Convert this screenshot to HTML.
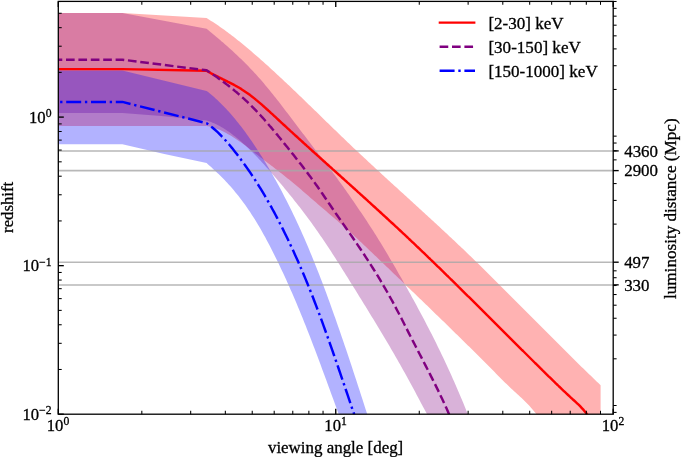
<!DOCTYPE html>
<html><head><meta charset="utf-8"><title>redshift vs viewing angle</title>
<style>html,body{margin:0;padding:0;background:#fff;}svg{display:block;will-change:transform;}body{font-family:"Liberation Serif",serif;}</style></head>
<body>
<svg width="685" height="457" viewBox="0 0 685 457">
<rect x="0" y="0" width="685" height="457" fill="#ffffff"/>
<defs><clipPath id="ax"><rect x="58.3" y="1.4" width="554.9" height="412.8"/></clipPath></defs>
<g clip-path="url(#ax)">
<polygon points="58.3,13.1 122.4,13.1 206.6,18.1 208.1,19.0 209.6,19.9 211.1,20.9 212.6,21.8 214.1,22.8 215.6,23.8 217.1,24.8 218.6,25.8 220.1,26.9 221.6,27.9 223.1,29.0 224.6,30.1 226.1,31.2 227.6,32.3 229.1,33.4 230.6,34.5 232.1,35.7 233.6,36.8 235.1,38.0 236.6,39.2 238.1,40.4 239.6,41.6 241.1,42.8 242.6,44.0 244.1,45.3 245.6,46.5 247.1,47.8 248.6,49.0 250.1,50.3 251.6,51.6 253.1,52.9 254.6,54.2 256.1,55.5 257.6,56.8 259.1,58.1 260.6,59.4 262.1,60.7 263.6,62.1 265.1,63.4 266.6,64.8 268.1,66.1 269.6,67.5 271.1,68.9 272.6,70.2 274.1,71.6 275.6,73.0 277.1,74.4 278.6,75.8 280.1,77.2 281.6,78.6 283.1,80.0 284.6,81.4 286.1,82.8 287.6,84.2 289.1,85.6 290.6,87.0 292.1,88.5 293.6,89.9 295.1,91.3 296.6,92.8 298.1,94.2 299.6,95.7 301.1,97.1 302.6,98.6 304.1,100.0 305.6,101.5 307.1,102.9 308.6,104.4 310.1,105.8 311.6,107.3 313.1,108.7 314.6,110.2 316.1,111.6 317.6,113.1 319.1,114.6 320.6,116.0 322.1,117.5 323.6,118.9 325.1,120.4 326.6,121.9 328.1,123.3 329.6,124.8 331.1,126.2 332.6,127.7 334.1,129.2 335.6,130.6 337.1,132.1 338.6,133.5 340.1,135.0 341.6,136.4 343.1,137.8 344.6,139.3 346.1,140.7 347.6,142.2 349.1,143.6 350.6,145.0 352.1,146.4 353.6,147.9 355.1,149.3 356.6,150.7 358.1,152.1 359.6,153.5 361.1,154.9 362.6,156.3 364.1,157.7 365.6,159.1 367.1,160.5 368.6,161.9 370.1,163.3 371.6,164.7 373.1,166.1 374.6,167.5 376.1,168.9 377.6,170.3 379.1,171.6 380.6,173.0 382.1,174.4 383.6,175.8 385.1,177.2 386.6,178.5 388.1,179.9 389.6,181.3 391.1,182.7 392.6,184.0 394.1,185.4 395.6,186.8 397.1,188.1 398.6,189.5 400.1,190.9 401.6,192.2 403.1,193.6 404.6,195.0 406.1,196.3 407.6,197.7 409.1,199.1 410.6,200.4 412.1,201.8 413.6,203.2 415.1,204.5 416.6,205.9 418.1,207.3 419.6,208.7 421.1,210.0 422.6,211.4 424.1,212.8 425.6,214.2 427.1,215.5 428.6,216.9 430.1,218.3 431.6,219.7 433.1,221.0 434.6,222.4 436.1,223.8 437.6,225.2 439.1,226.6 440.6,228.0 442.1,229.4 443.6,230.8 445.1,232.2 446.6,233.6 448.1,235.0 449.6,236.4 451.1,237.8 452.6,239.2 454.1,240.6 455.6,242.0 457.1,243.4 458.6,244.9 460.1,246.3 461.6,247.7 463.1,249.1 464.6,250.6 466.1,252.0 467.6,253.5 469.1,254.9 470.6,256.3 472.1,257.8 473.6,259.3 475.1,260.7 476.6,262.2 478.1,263.6 479.6,265.1 481.1,266.6 482.6,268.0 484.1,269.5 485.6,271.0 487.1,272.5 488.6,273.9 490.1,275.4 491.6,276.9 493.1,278.4 494.6,279.9 496.1,281.4 497.6,282.9 499.1,284.4 500.6,285.9 502.1,287.4 503.6,288.9 505.1,290.4 506.6,291.9 508.1,293.4 509.6,294.9 511.1,296.4 512.6,297.9 514.1,299.4 515.6,300.9 517.1,302.4 518.6,303.9 520.1,305.4 521.6,306.9 523.1,308.4 524.6,309.9 526.1,311.5 527.6,313.0 529.1,314.5 530.6,316.0 532.1,317.5 533.6,319.0 535.1,320.5 536.6,322.0 538.1,323.5 539.6,325.1 541.1,326.6 542.6,328.1 544.1,329.6 545.6,331.1 547.1,332.6 548.6,334.1 550.1,335.6 551.6,337.1 553.1,338.6 554.6,340.1 556.1,341.6 557.6,343.1 559.1,344.6 560.6,346.1 562.1,347.6 563.6,349.1 565.1,350.6 566.6,352.1 568.1,353.6 569.6,355.1 571.1,356.5 572.6,358.0 574.1,359.5 575.6,361.0 577.1,362.5 578.6,363.9 580.1,365.4 581.6,366.9 583.1,368.3 584.6,369.8 586.1,371.2 587.6,372.7 589.1,374.2 590.6,375.6 592.1,377.1 593.6,378.5 595.1,379.9 596.6,381.4 598.1,382.8 599.6,384.2 600.6,385.2 600.6,416.0 537.8,416.0 536.6,414.4 535.1,412.5 533.6,410.7 532.1,408.9 530.6,407.2 529.1,405.6 527.6,404.0 526.1,402.5 524.6,401.0 523.1,399.5 521.6,398.1 520.1,396.7 518.6,395.3 517.1,393.9 515.6,392.5 514.1,391.2 512.6,389.8 511.1,388.4 509.6,387.0 508.1,385.6 506.6,384.1 505.1,382.7 503.6,381.2 502.1,379.7 500.6,378.2 499.1,376.7 497.6,375.2 496.1,373.7 494.6,372.1 493.1,370.6 491.6,369.1 490.1,367.6 488.6,366.1 487.1,364.6 485.6,363.1 484.1,361.6 482.6,360.1 481.1,358.6 479.6,357.1 478.1,355.6 476.6,354.1 475.1,352.6 473.6,351.1 472.1,349.6 470.6,348.1 469.1,346.6 467.6,345.2 466.1,343.7 464.6,342.2 463.1,340.7 461.6,339.2 460.1,337.8 458.6,336.3 457.1,334.8 455.6,333.4 454.1,331.9 452.6,330.4 451.1,329.0 449.6,327.5 448.1,326.0 446.6,324.6 445.1,323.1 443.6,321.6 442.1,320.2 440.6,318.7 439.1,317.3 437.6,315.8 436.1,314.4 434.6,312.9 433.1,311.4 431.6,310.0 430.1,308.5 428.6,307.1 427.1,305.6 425.6,304.2 424.1,302.7 422.6,301.3 421.1,299.8 419.6,298.4 418.1,297.0 416.6,295.5 415.1,294.1 413.6,292.6 412.1,291.2 410.6,289.7 409.1,288.3 407.6,286.9 406.1,285.4 404.6,284.0 403.1,282.5 401.6,281.1 400.1,279.6 398.6,278.2 397.1,276.8 395.6,275.3 394.1,273.9 392.6,272.4 391.1,271.0 389.6,269.6 388.1,268.1 386.6,266.7 385.1,265.2 383.6,263.8 382.1,262.4 380.6,260.9 379.1,259.5 377.6,258.0 376.1,256.6 374.6,255.2 373.1,253.7 371.6,252.3 370.1,250.9 368.6,249.4 367.1,248.0 365.6,246.6 364.1,245.2 362.6,243.7 361.1,242.3 359.6,240.9 358.1,239.5 356.6,238.1 355.1,236.7 353.6,235.3 352.1,234.0 350.6,232.6 349.1,231.2 347.6,229.9 346.1,228.5 344.6,227.2 343.1,225.8 341.6,224.5 340.1,223.2 338.6,221.9 337.1,220.6 335.6,219.3 334.1,218.0 332.6,216.7 331.1,215.4 329.6,214.2 328.1,212.9 326.6,211.6 325.1,210.3 323.6,209.0 322.1,207.8 320.6,206.5 319.1,205.2 317.6,203.9 316.1,202.6 314.6,201.3 313.1,200.0 311.6,198.7 310.1,197.4 308.6,196.1 307.1,194.8 305.6,193.5 304.1,192.2 302.6,190.9 301.1,189.6 299.6,188.3 298.1,187.1 296.6,185.8 295.1,184.5 293.6,183.3 292.1,182.0 290.6,180.8 289.1,179.6 287.6,178.4 286.1,177.2 284.6,176.0 283.1,174.8 281.6,173.6 280.1,172.4 278.6,171.3 277.1,170.1 275.6,168.9 274.1,167.8 272.6,166.6 271.1,165.5 269.6,164.3 268.1,163.2 266.6,162.0 265.1,160.9 263.6,159.7 262.1,158.5 260.6,157.4 259.1,156.2 257.6,155.0 256.1,153.9 254.6,152.7 253.1,151.5 251.6,150.4 250.1,149.2 248.6,148.1 247.1,146.9 245.6,145.8 244.1,144.7 242.6,143.6 241.1,142.6 239.6,141.5 238.1,140.5 236.6,139.4 235.1,138.5 233.6,137.5 232.1,136.5 230.6,135.6 229.1,134.7 227.6,133.9 226.1,133.1 224.6,132.3 223.1,131.5 221.6,130.8 220.1,130.1 218.6,129.5 217.1,128.9 215.6,128.3 214.1,127.8 212.6,127.3 211.1,126.9 209.6,126.5 208.1,126.2 206.6,125.9 122.4,125.9 58.3,125.9" fill="#ff0000" fill-opacity="0.3"/>
<polygon points="58.3,13.1 122.4,13.1 206.6,28.8 208.1,30.0 209.6,31.3 211.1,32.5 212.6,33.7 214.1,35.0 215.6,36.3 217.1,37.5 218.6,38.8 220.1,40.1 221.6,41.4 223.1,42.6 224.6,44.0 226.1,45.3 227.6,46.6 229.1,47.9 230.6,49.3 232.1,50.6 233.6,52.0 235.1,53.4 236.6,54.8 238.1,56.2 239.6,57.7 241.1,59.1 242.6,60.6 244.1,62.0 245.6,63.5 247.1,65.1 248.6,66.6 250.1,68.2 251.6,69.7 253.1,71.3 254.6,72.9 256.1,74.6 257.6,76.2 259.1,77.9 260.6,79.6 262.1,81.3 263.6,83.1 265.1,84.9 266.6,86.7 268.1,88.5 269.6,90.3 271.1,92.2 272.6,94.0 274.1,95.9 275.6,97.8 277.1,99.7 278.6,101.6 280.1,103.6 281.6,105.5 283.1,107.5 284.6,109.4 286.1,111.4 287.6,113.3 289.1,115.3 290.6,117.3 292.1,119.3 293.6,121.3 295.1,123.3 296.6,125.2 298.1,127.2 299.6,129.2 301.1,131.2 302.6,133.2 304.1,135.1 305.6,137.1 307.1,139.1 308.6,141.0 310.1,143.0 311.6,145.0 313.1,146.9 314.6,148.9 316.1,150.8 317.6,152.7 319.1,154.7 320.6,156.6 322.1,158.5 323.6,160.5 325.1,162.4 326.6,164.4 328.1,166.3 329.6,168.3 331.1,170.3 332.6,172.3 334.1,174.3 335.6,176.3 337.1,178.3 338.6,180.4 340.1,182.4 341.6,184.5 343.1,186.6 344.6,188.7 346.1,190.8 347.6,193.0 349.1,195.1 350.6,197.3 352.1,199.4 353.6,201.6 355.1,203.8 356.6,206.0 358.1,208.2 359.6,210.4 361.1,212.6 362.6,214.8 364.1,217.1 365.6,219.3 367.1,221.6 368.6,223.9 370.1,226.2 371.6,228.5 373.1,230.8 374.6,233.2 376.1,235.6 377.6,238.0 379.1,240.4 380.6,242.8 382.1,245.3 383.6,247.8 385.1,250.3 386.6,252.8 388.1,255.3 389.6,257.9 391.1,260.4 392.6,263.0 394.1,265.6 395.6,268.1 397.1,270.7 398.6,273.4 400.1,276.0 401.6,278.6 403.1,281.2 404.6,283.9 406.1,286.6 407.6,289.3 409.1,291.9 410.6,294.6 412.1,297.4 413.6,300.1 415.1,302.8 416.6,305.6 418.1,308.4 419.6,311.2 421.1,314.0 422.6,316.8 424.1,319.6 425.6,322.5 427.1,325.4 428.6,328.3 430.1,331.2 431.6,334.1 433.1,337.1 434.6,340.1 436.1,343.1 437.6,346.2 439.1,349.2 440.6,352.3 442.1,355.4 443.6,358.6 445.1,361.8 446.6,365.0 448.1,368.2 449.6,371.5 451.1,374.8 452.6,378.2 454.1,381.6 455.6,385.0 457.1,388.4 458.6,391.9 460.1,395.5 461.6,399.0 463.1,402.6 464.6,406.3 466.1,410.0 467.6,413.7 468.5,416.0 428.1,416.0 427.1,414.2 425.6,411.5 424.1,408.8 422.6,406.0 421.1,403.2 419.6,400.3 418.1,397.5 416.6,394.7 415.1,391.8 413.6,389.0 412.1,386.2 410.6,383.5 409.1,380.7 407.6,378.0 406.1,375.2 404.6,372.5 403.1,369.9 401.6,367.2 400.1,364.5 398.6,361.9 397.1,359.3 395.6,356.7 394.1,354.1 392.6,351.5 391.1,348.9 389.6,346.3 388.1,343.8 386.6,341.2 385.1,338.7 383.6,336.2 382.1,333.7 380.6,331.2 379.1,328.7 377.6,326.2 376.1,323.7 374.6,321.3 373.1,318.8 371.6,316.4 370.1,313.9 368.6,311.5 367.1,309.0 365.6,306.6 364.1,304.2 362.6,301.7 361.1,299.3 359.6,296.9 358.1,294.5 356.6,292.0 355.1,289.6 353.6,287.2 352.1,284.8 350.6,282.4 349.1,280.0 347.6,277.6 346.1,275.2 344.6,272.8 343.1,270.4 341.6,268.0 340.1,265.6 338.6,263.2 337.1,260.9 335.6,258.5 334.1,256.2 332.6,253.9 331.1,251.6 329.6,249.3 328.1,247.0 326.6,244.7 325.1,242.5 323.6,240.3 322.1,238.0 320.6,235.9 319.1,233.7 317.6,231.5 316.1,229.4 314.6,227.3 313.1,225.2 311.6,223.1 310.1,221.0 308.6,219.0 307.1,217.0 305.6,215.0 304.1,213.0 302.6,211.0 301.1,209.0 299.6,207.1 298.1,205.2 296.6,203.3 295.1,201.4 293.6,199.5 292.1,197.6 290.6,195.7 289.1,193.9 287.6,192.0 286.1,190.2 284.6,188.4 283.1,186.6 281.6,184.8 280.1,183.0 278.6,181.2 277.1,179.5 275.6,177.7 274.1,176.0 272.6,174.2 271.1,172.5 269.6,170.8 268.1,169.1 266.6,167.4 265.1,165.7 263.6,164.1 262.1,162.4 260.6,160.8 259.1,159.2 257.6,157.6 256.1,156.0 254.6,154.5 253.1,152.9 251.6,151.4 250.1,149.9 248.6,148.5 247.1,147.1 245.6,145.6 244.1,144.3 242.6,142.9 241.1,141.6 239.6,140.3 238.1,139.0 236.6,137.8 235.1,136.5 233.6,135.4 232.1,134.2 230.6,133.1 229.1,132.0 227.6,131.0 226.1,130.0 224.6,129.0 223.1,128.1 221.6,127.2 220.1,126.3 218.6,125.5 217.1,124.8 215.6,124.0 214.1,123.3 212.6,122.7 211.1,122.1 209.6,121.6 208.1,121.1 206.6,120.6 164.3,116.3 122.4,112.9 58.3,112.9" fill="#800080" fill-opacity="0.3"/>
<polygon points="58.3,70.6 122.4,70.6 206.6,90.9 208.1,92.1 209.6,93.3 211.1,94.5 212.6,95.8 214.1,97.1 215.6,98.4 217.1,99.8 218.6,101.2 220.1,102.7 221.6,104.2 223.1,105.7 224.6,107.3 226.1,108.8 227.6,110.5 229.1,112.1 230.6,113.8 232.1,115.5 233.6,117.3 235.1,119.1 236.6,120.9 238.1,122.8 239.6,124.7 241.1,126.6 242.6,128.6 244.1,130.6 245.6,132.6 247.1,134.7 248.6,136.8 250.1,138.9 251.6,141.1 253.1,143.3 254.6,145.5 256.1,147.8 257.6,150.0 259.1,152.4 260.6,154.7 262.1,157.1 263.6,159.5 265.1,162.0 266.6,164.5 268.1,167.0 269.6,169.6 271.1,172.1 272.6,174.8 274.1,177.4 275.6,180.1 277.1,182.8 278.6,185.5 280.1,188.3 281.6,191.1 283.1,194.0 284.6,196.9 286.1,199.8 287.6,202.7 289.1,205.7 290.6,208.8 292.1,211.8 293.6,214.9 295.1,218.1 296.6,221.3 298.1,224.5 299.6,227.8 301.1,231.1 302.6,234.4 304.1,237.8 305.6,241.3 307.1,244.8 308.6,248.3 310.1,251.9 311.6,255.5 313.1,259.2 314.6,262.9 316.1,266.7 317.6,270.5 319.1,274.3 320.6,278.2 322.1,282.1 323.6,286.1 325.1,290.1 326.6,294.1 328.1,298.2 329.6,302.3 331.1,306.5 332.6,310.7 334.1,314.9 335.6,319.1 337.1,323.4 338.6,327.7 340.1,332.0 341.6,336.4 343.1,340.8 344.6,345.2 346.1,349.6 347.6,354.1 349.1,358.6 350.6,363.1 352.1,367.6 353.6,372.2 355.1,376.7 356.6,381.3 358.1,385.9 359.6,390.5 361.1,395.2 362.6,399.8 364.1,404.5 365.6,409.2 367.1,413.8 367.8,416.0 339.4,416.0 338.6,413.9 337.1,409.8 335.6,405.7 334.1,401.6 332.6,397.5 331.1,393.4 329.6,389.3 328.1,385.2 326.6,381.1 325.1,377.0 323.6,372.9 322.1,368.9 320.6,364.8 319.1,360.8 317.6,356.8 316.1,352.8 314.6,348.8 313.1,344.9 311.6,341.0 310.1,337.1 308.6,333.2 307.1,329.4 305.6,325.6 304.1,321.9 302.6,318.1 301.1,314.5 299.6,310.8 298.1,307.2 296.6,303.6 295.1,300.1 293.6,296.6 292.1,293.1 290.6,289.7 289.1,286.3 287.6,282.9 286.1,279.6 284.6,276.3 283.1,273.1 281.6,269.9 280.1,266.7 278.6,263.6 277.1,260.5 275.6,257.4 274.1,254.4 272.6,251.4 271.1,248.5 269.6,245.6 268.1,242.7 266.6,239.9 265.1,237.1 263.6,234.4 262.1,231.7 260.6,229.1 259.1,226.5 257.6,224.0 256.1,221.5 254.6,219.1 253.1,216.7 251.6,214.4 250.1,212.1 248.6,209.9 247.1,207.7 245.6,205.6 244.1,203.5 242.6,201.4 241.1,199.4 239.6,197.5 238.1,195.6 236.6,193.7 235.1,191.9 233.6,190.1 232.1,188.3 230.6,186.6 229.1,184.9 227.6,183.3 226.1,181.7 224.6,180.1 223.1,178.6 221.6,177.1 220.1,175.6 218.6,174.1 217.1,172.7 215.6,171.3 214.1,169.9 212.6,168.5 211.1,167.1 209.6,165.8 208.1,164.4 206.6,163.1 164.3,154.1 122.4,144.2 58.3,144.2" fill="#0000ff" fill-opacity="0.3"/>
<line x1="58.3" y1="150.9" x2="613.2" y2="150.9" stroke="#a6a6a6" stroke-opacity="0.8" stroke-width="1.55"/>
<line x1="58.3" y1="170.6" x2="613.2" y2="170.6" stroke="#a6a6a6" stroke-opacity="0.8" stroke-width="1.55"/>
<line x1="58.3" y1="262.2" x2="613.2" y2="262.2" stroke="#a6a6a6" stroke-opacity="0.8" stroke-width="1.55"/>
<line x1="58.3" y1="284.9" x2="613.2" y2="284.9" stroke="#a6a6a6" stroke-opacity="0.8" stroke-width="1.55"/>
<polyline points="58.3,69.1 122.4,69.1 206.6,70.7 208.1,71.6 209.6,72.4 211.1,73.3 212.6,74.1 214.1,74.9 215.6,75.6 217.1,76.4 218.6,77.2 220.1,77.9 221.6,78.6 223.1,79.4 224.6,80.1 226.1,80.8 227.6,81.6 229.1,82.3 230.6,83.1 232.1,83.9 233.6,84.7 235.1,85.5 236.6,86.3 238.1,87.2 239.6,88.0 241.1,88.9 242.6,89.9 244.1,90.9 245.6,91.9 247.1,92.9 248.6,94.0 250.1,95.1 251.6,96.3 253.1,97.4 254.6,98.6 256.1,99.9 257.6,101.1 259.1,102.4 260.6,103.6 262.1,104.9 263.6,106.3 265.1,107.6 266.6,109.0 268.1,110.3 269.6,111.7 271.1,113.1 272.6,114.4 274.1,115.8 275.6,117.2 277.1,118.6 278.6,120.0 280.1,121.4 281.6,122.8 283.1,124.2 284.6,125.5 286.1,126.9 287.6,128.3 289.1,129.7 290.6,131.1 292.1,132.4 293.6,133.8 295.1,135.2 296.6,136.5 298.1,137.9 299.6,139.3 301.1,140.6 302.6,142.0 304.1,143.4 305.6,144.7 307.1,146.1 308.6,147.4 310.1,148.8 311.6,150.2 313.1,151.5 314.6,152.9 316.1,154.2 317.6,155.6 319.1,156.9 320.6,158.3 322.1,159.6 323.6,161.0 325.1,162.3 326.6,163.7 328.1,165.0 329.6,166.4 331.1,167.7 332.6,169.1 334.1,170.4 335.6,171.8 337.1,173.1 338.6,174.5 340.1,175.8 341.6,177.2 343.1,178.5 344.6,179.9 346.1,181.2 347.6,182.6 349.1,183.9 350.6,185.3 352.1,186.6 353.6,188.0 355.1,189.3 356.6,190.7 358.1,192.1 359.6,193.4 361.1,194.8 362.6,196.1 364.1,197.5 365.6,198.8 367.1,200.2 368.6,201.6 370.1,202.9 371.6,204.3 373.1,205.7 374.6,207.0 376.1,208.4 377.6,209.8 379.1,211.1 380.6,212.5 382.1,213.9 383.6,215.3 385.1,216.6 386.6,218.0 388.1,219.4 389.6,220.8 391.1,222.2 392.6,223.5 394.1,224.9 395.6,226.3 397.1,227.7 398.6,229.1 400.1,230.5 401.6,231.9 403.1,233.3 404.6,234.7 406.1,236.1 407.6,237.5 409.1,239.0 410.6,240.4 412.1,241.8 413.6,243.2 415.1,244.6 416.6,246.1 418.1,247.5 419.6,248.9 421.1,250.4 422.6,251.8 424.1,253.2 425.6,254.7 427.1,256.1 428.6,257.6 430.1,259.0 431.6,260.5 433.1,261.9 434.6,263.4 436.1,264.8 437.6,266.3 439.1,267.7 440.6,269.2 442.1,270.7 443.6,272.1 445.1,273.6 446.6,275.1 448.1,276.5 449.6,278.0 451.1,279.5 452.6,280.9 454.1,282.4 455.6,283.9 457.1,285.4 458.6,286.9 460.1,288.3 461.6,289.8 463.1,291.3 464.6,292.8 466.1,294.3 467.6,295.8 469.1,297.2 470.6,298.7 472.1,300.2 473.6,301.7 475.1,303.2 476.6,304.7 478.1,306.2 479.6,307.7 481.1,309.2 482.6,310.7 484.1,312.2 485.6,313.7 487.1,315.2 488.6,316.6 490.1,318.1 491.6,319.6 493.1,321.1 494.6,322.6 496.1,324.1 497.6,325.6 499.1,327.1 500.6,328.6 502.1,330.1 503.6,331.6 505.1,333.1 506.6,334.6 508.1,336.1 509.6,337.6 511.1,339.1 512.6,340.6 514.1,342.1 515.6,343.6 517.1,345.1 518.6,346.6 520.1,348.1 521.6,349.6 523.1,351.0 524.6,352.5 526.1,354.0 527.6,355.5 529.1,357.0 530.6,358.5 532.1,360.0 533.6,361.5 535.1,363.0 536.6,364.4 538.1,365.9 539.6,367.4 541.1,368.9 542.6,370.4 544.1,371.8 545.6,373.3 547.1,374.8 548.6,376.3 550.1,377.7 551.6,379.2 553.1,380.7 554.6,382.1 556.1,383.6 557.6,385.0 559.1,386.5 560.6,387.9 562.1,389.4 563.6,390.8 565.1,392.2 566.6,393.6 568.1,395.0 569.6,396.4 571.1,397.8 572.6,399.2 574.1,400.5 575.6,401.9 577.1,403.3 578.6,404.7 580.1,406.2 581.6,407.8 583.1,409.4 584.6,411.2 586.1,413.0 587.6,415.1 588.3,416.0" fill="none" stroke="#ff0000" stroke-width="2.45" stroke-linejoin="round"/>
<polyline points="58.3,59.7 122.4,59.7 206.6,70.3 208.1,71.3 209.6,72.3 211.1,73.2 212.6,74.3 214.1,75.3 215.6,76.3 217.1,77.3 218.6,78.4 220.1,79.5 221.6,80.6 223.1,81.7 224.6,82.8 226.1,83.9 227.6,85.1 229.1,86.2 230.6,87.4 232.1,88.6 233.6,89.8 235.1,91.1 236.6,92.3 238.1,93.6 239.6,94.9 241.1,96.2 242.6,97.6 244.1,98.9 245.6,100.3 247.1,101.7 248.6,103.2 250.1,104.6 251.6,106.1 253.1,107.6 254.6,109.1 256.1,110.7 257.6,112.3 259.1,113.9 260.6,115.5 262.1,117.1 263.6,118.8 265.1,120.5 266.6,122.2 268.1,123.9 269.6,125.7 271.1,127.4 272.6,129.2 274.1,131.0 275.6,132.8 277.1,134.6 278.6,136.5 280.1,138.3 281.6,140.1 283.1,142.0 284.6,143.9 286.1,145.7 287.6,147.6 289.1,149.5 290.6,151.4 292.1,153.2 293.6,155.1 295.1,157.0 296.6,158.9 298.1,160.8 299.6,162.7 301.1,164.6 302.6,166.5 304.1,168.5 305.6,170.4 307.1,172.4 308.6,174.4 310.1,176.4 311.6,178.5 313.1,180.5 314.6,182.6 316.1,184.7 317.6,186.8 319.1,189.0 320.6,191.2 322.1,193.3 323.6,195.5 325.1,197.7 326.6,199.9 328.1,202.1 329.6,204.3 331.1,206.5 332.6,208.7 334.1,210.9 335.6,213.1 337.1,215.2 338.6,217.4 340.1,219.5 341.6,221.7 343.1,223.9 344.6,226.0 346.1,228.2 347.6,230.3 349.1,232.5 350.6,234.6 352.1,236.8 353.6,239.0 355.1,241.2 356.6,243.4 358.1,245.6 359.6,247.8 361.1,250.0 362.6,252.3 364.1,254.5 365.6,256.8 367.1,259.1 368.6,261.4 370.1,263.7 371.6,266.1 373.1,268.5 374.6,270.8 376.1,273.3 377.6,275.7 379.1,278.2 380.6,280.7 382.1,283.2 383.6,285.8 385.1,288.3 386.6,291.0 388.1,293.6 389.6,296.3 391.1,299.0 392.6,301.7 394.1,304.5 395.6,307.3 397.1,310.2 398.6,313.0 400.1,315.9 401.6,318.8 403.1,321.8 404.6,324.7 406.1,327.7 407.6,330.6 409.1,333.6 410.6,336.5 412.1,339.5 413.6,342.4 415.1,345.3 416.6,348.2 418.1,351.1 419.6,354.0 421.1,356.9 422.6,359.8 424.1,362.7 425.6,365.6 427.1,368.5 428.6,371.5 430.1,374.4 431.6,377.4 433.1,380.4 434.6,383.3 436.1,386.4 437.6,389.4 439.1,392.5 440.6,395.7 442.1,398.8 443.6,402.0 445.1,405.3 446.6,408.6 448.1,412.0 449.6,415.5 449.8,416.0" fill="none" stroke="#800080" stroke-width="2.45" stroke-dasharray="8.66 3.74" stroke-dashoffset="4.7" stroke-linejoin="round"/>
<polyline points="58.3,101.9 122.4,101.9 206.6,123.2 208.1,124.2 209.6,125.3 211.1,126.5 212.6,127.7 214.1,129.0 215.6,130.3 217.1,131.7 218.6,133.1 220.1,134.6 221.6,136.2 223.1,137.7 224.6,139.4 226.1,141.0 227.6,142.8 229.1,144.5 230.6,146.3 232.1,148.1 233.6,150.0 235.1,151.9 236.6,153.8 238.1,155.8 239.6,157.7 241.1,159.8 242.6,161.8 244.1,163.9 245.6,166.0 247.1,168.1 248.6,170.2 250.1,172.4 251.6,174.7 253.1,176.9 254.6,179.2 256.1,181.5 257.6,183.9 259.1,186.3 260.6,188.7 262.1,191.2 263.6,193.7 265.1,196.2 266.6,198.8 268.1,201.4 269.6,204.0 271.1,206.7 272.6,209.5 274.1,212.2 275.6,215.0 277.1,217.9 278.6,220.8 280.1,223.7 281.6,226.6 283.1,229.6 284.6,232.7 286.1,235.7 287.6,238.8 289.1,242.0 290.6,245.2 292.1,248.4 293.6,251.6 295.1,254.9 296.6,258.2 298.1,261.6 299.6,265.0 301.1,268.5 302.6,272.0 304.1,275.5 305.6,279.1 307.1,282.8 308.6,286.5 310.1,290.2 311.6,294.0 313.1,297.8 314.6,301.7 316.1,305.6 317.6,309.6 319.1,313.6 320.6,317.6 322.1,321.7 323.6,325.8 325.1,330.0 326.6,334.2 328.1,338.4 329.6,342.6 331.1,346.9 332.6,351.2 334.1,355.5 335.6,359.8 337.1,364.1 338.6,368.5 340.1,372.9 341.6,377.3 343.1,381.7 344.6,386.1 346.1,390.5 347.6,394.9 349.1,399.4 350.6,403.8 352.1,408.3 353.6,412.7 354.7,416.0" fill="none" stroke="#0000ff" stroke-width="2.45" stroke-dasharray="14.98 3.74 2.34 3.74" stroke-dashoffset="16.9" stroke-linejoin="round"/>
</g>
<g stroke="#000000" fill="none"><line x1="58.30" y1="414.20" x2="58.30" y2="408.70" stroke-width="1.35"/><line x1="58.30" y1="1.45" x2="58.30" y2="6.95" stroke-width="1.35"/><line x1="141.82" y1="414.20" x2="141.82" y2="410.80" stroke-width="1.05"/><line x1="141.82" y1="1.45" x2="141.82" y2="4.85" stroke-width="1.05"/><line x1="190.68" y1="414.20" x2="190.68" y2="410.80" stroke-width="1.05"/><line x1="190.68" y1="1.45" x2="190.68" y2="4.85" stroke-width="1.05"/><line x1="225.34" y1="414.20" x2="225.34" y2="410.80" stroke-width="1.05"/><line x1="225.34" y1="1.45" x2="225.34" y2="4.85" stroke-width="1.05"/><line x1="252.23" y1="414.20" x2="252.23" y2="410.80" stroke-width="1.05"/><line x1="252.23" y1="1.45" x2="252.23" y2="4.85" stroke-width="1.05"/><line x1="274.20" y1="414.20" x2="274.20" y2="410.80" stroke-width="1.05"/><line x1="274.20" y1="1.45" x2="274.20" y2="4.85" stroke-width="1.05"/><line x1="292.77" y1="414.20" x2="292.77" y2="410.80" stroke-width="1.05"/><line x1="292.77" y1="1.45" x2="292.77" y2="4.85" stroke-width="1.05"/><line x1="308.86" y1="414.20" x2="308.86" y2="410.80" stroke-width="1.05"/><line x1="308.86" y1="1.45" x2="308.86" y2="4.85" stroke-width="1.05"/><line x1="323.05" y1="414.20" x2="323.05" y2="410.80" stroke-width="1.05"/><line x1="323.05" y1="1.45" x2="323.05" y2="4.85" stroke-width="1.05"/><line x1="335.75" y1="414.20" x2="335.75" y2="408.70" stroke-width="1.35"/><line x1="335.75" y1="1.45" x2="335.75" y2="6.95" stroke-width="1.35"/><line x1="419.27" y1="414.20" x2="419.27" y2="410.80" stroke-width="1.05"/><line x1="419.27" y1="1.45" x2="419.27" y2="4.85" stroke-width="1.05"/><line x1="468.13" y1="414.20" x2="468.13" y2="410.80" stroke-width="1.05"/><line x1="468.13" y1="1.45" x2="468.13" y2="4.85" stroke-width="1.05"/><line x1="502.79" y1="414.20" x2="502.79" y2="410.80" stroke-width="1.05"/><line x1="502.79" y1="1.45" x2="502.79" y2="4.85" stroke-width="1.05"/><line x1="529.68" y1="414.20" x2="529.68" y2="410.80" stroke-width="1.05"/><line x1="529.68" y1="1.45" x2="529.68" y2="4.85" stroke-width="1.05"/><line x1="551.65" y1="414.20" x2="551.65" y2="410.80" stroke-width="1.05"/><line x1="551.65" y1="1.45" x2="551.65" y2="4.85" stroke-width="1.05"/><line x1="570.22" y1="414.20" x2="570.22" y2="410.80" stroke-width="1.05"/><line x1="570.22" y1="1.45" x2="570.22" y2="4.85" stroke-width="1.05"/><line x1="586.31" y1="414.20" x2="586.31" y2="410.80" stroke-width="1.05"/><line x1="586.31" y1="1.45" x2="586.31" y2="4.85" stroke-width="1.05"/><line x1="600.50" y1="414.20" x2="600.50" y2="410.80" stroke-width="1.05"/><line x1="600.50" y1="1.45" x2="600.50" y2="4.85" stroke-width="1.05"/><line x1="613.20" y1="414.20" x2="613.20" y2="408.70" stroke-width="1.35"/><line x1="613.20" y1="1.45" x2="613.20" y2="6.95" stroke-width="1.35"/><line x1="58.30" y1="414.20" x2="63.80" y2="414.20" stroke-width="1.35"/><line x1="58.30" y1="369.48" x2="61.70" y2="369.48" stroke-width="1.05"/><line x1="58.30" y1="343.32" x2="61.70" y2="343.32" stroke-width="1.05"/><line x1="58.30" y1="324.76" x2="61.70" y2="324.76" stroke-width="1.05"/><line x1="58.30" y1="310.37" x2="61.70" y2="310.37" stroke-width="1.05"/><line x1="58.30" y1="298.61" x2="61.70" y2="298.61" stroke-width="1.05"/><line x1="58.30" y1="288.66" x2="61.70" y2="288.66" stroke-width="1.05"/><line x1="58.30" y1="280.05" x2="61.70" y2="280.05" stroke-width="1.05"/><line x1="58.30" y1="272.45" x2="61.70" y2="272.45" stroke-width="1.05"/><line x1="58.30" y1="265.65" x2="63.80" y2="265.65" stroke-width="1.35"/><line x1="58.30" y1="220.93" x2="61.70" y2="220.93" stroke-width="1.05"/><line x1="58.30" y1="194.77" x2="61.70" y2="194.77" stroke-width="1.05"/><line x1="58.30" y1="176.21" x2="61.70" y2="176.21" stroke-width="1.05"/><line x1="58.30" y1="161.82" x2="61.70" y2="161.82" stroke-width="1.05"/><line x1="58.30" y1="150.06" x2="61.70" y2="150.06" stroke-width="1.05"/><line x1="58.30" y1="140.11" x2="61.70" y2="140.11" stroke-width="1.05"/><line x1="58.30" y1="131.50" x2="61.70" y2="131.50" stroke-width="1.05"/><line x1="58.30" y1="123.90" x2="61.70" y2="123.90" stroke-width="1.05"/><line x1="58.30" y1="117.10" x2="63.80" y2="117.10" stroke-width="1.35"/><line x1="58.30" y1="72.38" x2="61.70" y2="72.38" stroke-width="1.05"/><line x1="58.30" y1="46.22" x2="61.70" y2="46.22" stroke-width="1.05"/><line x1="58.30" y1="27.66" x2="61.70" y2="27.66" stroke-width="1.05"/><line x1="58.30" y1="13.27" x2="61.70" y2="13.27" stroke-width="1.05"/><line x1="58.30" y1="1.51" x2="61.70" y2="1.51" stroke-width="1.05"/><line x1="613.20" y1="89.44" x2="616.60" y2="89.44" stroke-width="1.05"/><line x1="613.20" y1="65.72" x2="616.60" y2="65.72" stroke-width="1.05"/><line x1="613.20" y1="48.89" x2="616.60" y2="48.89" stroke-width="1.05"/><line x1="613.20" y1="35.84" x2="616.60" y2="35.84" stroke-width="1.05"/><line x1="613.20" y1="25.18" x2="616.60" y2="25.18" stroke-width="1.05"/><line x1="613.20" y1="16.16" x2="616.60" y2="16.16" stroke-width="1.05"/><line x1="613.20" y1="8.35" x2="616.60" y2="8.35" stroke-width="1.05"/><line x1="613.20" y1="1.46" x2="616.60" y2="1.46" stroke-width="1.05"/><line x1="613.20" y1="224.12" x2="616.60" y2="224.12" stroke-width="1.05"/><line x1="613.20" y1="200.40" x2="616.60" y2="200.40" stroke-width="1.05"/><line x1="613.20" y1="183.57" x2="616.60" y2="183.57" stroke-width="1.05"/><line x1="613.20" y1="170.52" x2="616.60" y2="170.52" stroke-width="1.05"/><line x1="613.20" y1="159.86" x2="616.60" y2="159.86" stroke-width="1.05"/><line x1="613.20" y1="150.84" x2="616.60" y2="150.84" stroke-width="1.05"/><line x1="613.20" y1="143.03" x2="616.60" y2="143.03" stroke-width="1.05"/><line x1="613.20" y1="136.14" x2="616.60" y2="136.14" stroke-width="1.05"/><line x1="613.20" y1="358.80" x2="616.60" y2="358.80" stroke-width="1.05"/><line x1="613.20" y1="335.08" x2="616.60" y2="335.08" stroke-width="1.05"/><line x1="613.20" y1="318.25" x2="616.60" y2="318.25" stroke-width="1.05"/><line x1="613.20" y1="305.20" x2="616.60" y2="305.20" stroke-width="1.05"/><line x1="613.20" y1="294.54" x2="616.60" y2="294.54" stroke-width="1.05"/><line x1="613.20" y1="285.52" x2="616.60" y2="285.52" stroke-width="1.05"/><line x1="613.20" y1="277.71" x2="616.60" y2="277.71" stroke-width="1.05"/><line x1="613.20" y1="270.82" x2="616.60" y2="270.82" stroke-width="1.05"/><line x1="613.20" y1="412.39" x2="616.60" y2="412.39" stroke-width="1.05"/><line x1="613.20" y1="405.50" x2="616.60" y2="405.50" stroke-width="1.05"/><line x1="613.20" y1="150.90" x2="618.70" y2="150.90" stroke-width="1.35"/><line x1="613.20" y1="170.60" x2="618.70" y2="170.60" stroke-width="1.35"/><line x1="613.20" y1="262.20" x2="618.70" y2="262.20" stroke-width="1.35"/><line x1="613.20" y1="284.85" x2="618.70" y2="284.85" stroke-width="1.35"/></g>
<rect x="58.3" y="1.4" width="554.9" height="412.8" fill="none" stroke="#000000" stroke-width="1.3"/>
<g font-family="'Liberation Serif', serif" font-size="16.67" fill="#000000" stroke="#000000" stroke-width="0.3">
<text x="51.5" y="123.0" text-anchor="end">10<tspan font-size="11.67" dy="-5.7">0</tspan></text>
<text x="51.5" y="271.4" text-anchor="end">10<tspan font-size="11.67" dy="-5.7">−1</tspan></text>
<text x="51.5" y="419.6" text-anchor="end">10<tspan font-size="11.67" dy="-5.7">−2</tspan></text>
<text x="58.0" y="430.8" text-anchor="middle">10<tspan font-size="11.67" dy="-5.7">0</tspan></text>
<text x="335.6" y="430.8" text-anchor="middle">10<tspan font-size="11.67" dy="-5.7">1</tspan></text>
<text x="613.0" y="430.8" text-anchor="middle">10<tspan font-size="11.67" dy="-5.7">2</tspan></text>
<text x="624.2" y="156.6" textLength="33.8" lengthAdjust="spacingAndGlyphs">4360</text>
<text x="624.2" y="176.3" textLength="33.8" lengthAdjust="spacingAndGlyphs">2900</text>
<text x="624.2" y="267.9" textLength="25.3" lengthAdjust="spacingAndGlyphs">497</text>
<text x="624.2" y="290.6" textLength="25.3" lengthAdjust="spacingAndGlyphs">330</text>
<text x="335.6" y="452.6" text-anchor="middle" textLength="135.3" lengthAdjust="spacingAndGlyphs">viewing angle [deg]</text>
<text transform="translate(12.5,207.4) rotate(-90)" text-anchor="middle" textLength="51" lengthAdjust="spacingAndGlyphs">redshift</text>
<text transform="translate(676.2,208.7) rotate(-90)" text-anchor="middle" textLength="180.6" lengthAdjust="spacingAndGlyphs">luminosity distance (Mpc)</text>
<text x="488.4" y="28.6" textLength="75.3" lengthAdjust="spacingAndGlyphs">[2-30] keV</text>
<text x="488.4" y="52.6" textLength="92.4" lengthAdjust="spacingAndGlyphs">[30-150] keV</text>
<text x="488.4" y="76.7" textLength="109.3" lengthAdjust="spacingAndGlyphs">[150-1000] keV</text>
</g>
<g fill="none" stroke-width="2.45">
<line x1="438.7" y1="22.6" x2="475.4" y2="22.6" stroke="#ff0000"/>
<line x1="439.6" y1="46.8" x2="476.3" y2="46.8" stroke="#800080" stroke-dasharray="8.66 3.74"/>
<line x1="439.6" y1="70.8" x2="475.0" y2="70.8" stroke="#0000ff" stroke-dasharray="14.98 3.74 2.34 3.74"/>
</g>
</svg>
</body></html>
